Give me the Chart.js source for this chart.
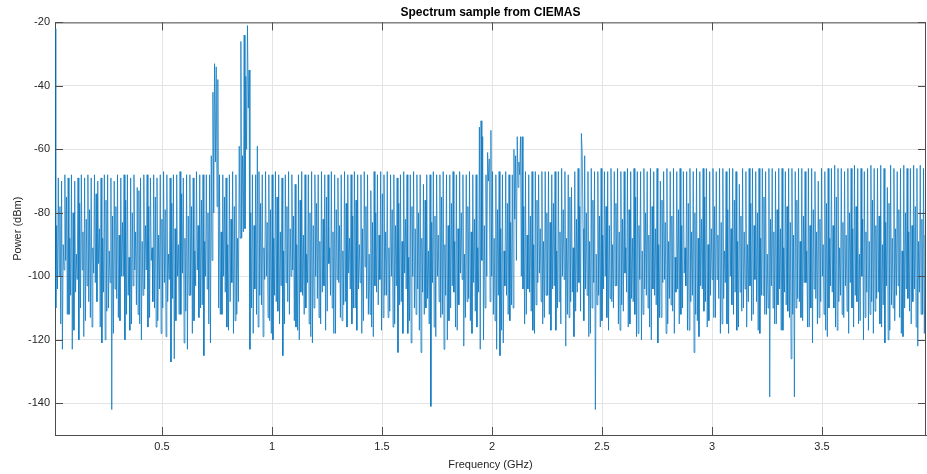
<!DOCTYPE html>
<html>
<head>
<meta charset="utf-8">
<script src="https://cdn.jsdelivr.net/npm/chart.js@4"></script>
<style>
  body { margin: 0; background: #fff; }
</style>
</head>
<body>
<canvas id="spectrumChart" width="927" height="474"></canvas>
<script>
// Spectrum sample (dBm)
const freqStart = 0.0136; // GHz, left edge of the trace
const freqStop = 3.9727;  // GHz, right edge of the trace

// each ripple of the trace: peak, trough, shoulder, dip
const peaks = [
  -22, -69, -70, -68, -69, -68, -70, -69, -68, -69,
  -68, -69, -68, -70, -69, -68, -68, -69, -70, -68,
  -69, -68, -68, -69, -68, -72, -69, -68, -68, -69,
  -68, -69, -68, -67, -68, -69, -68, -68, -67, -69,
  -68, -68, -69, -67, -68, -68, -68, -68, -42, -34,
  -68, -68, -69, -68, -67, -68, -59, -62, -37, -35,
  -68, -68, -67, -68, -67, -68, -68, -67, -68, -69,
  -68, -67, -68, -71, -68, -67, -68, -68, -67, -68,
  -68, -67, -68, -68, -67, -68, -69, -68, -67, -68,
  -68, -67, -68, -68, -67, -68, -73, -67, -68, -67,
  -68, -67, -68, -68, -69, -68, -67, -68, -68, -67,
  -68, -68, -71, -68, -68, -67, -68, -68, -67, -68,
  -68, -67, -68, -67, -68, -68, -67, -68, -68, -53,
  -56, -68, -63, -67, -68, -67, -68, -67, -68, -68,
  -62, -64, -56, -67, -68, -67, -67, -68, -67, -67,
  -67, -68, -67, -67, -66, -67, -68, -72, -67, -66,
  -55, -62, -67, -66, -67, -67, -66, -67, -67, -66,
  -67, -66, -67, -67, -66, -67, -66, -67, -67, -66,
  -67, -66, -67, -66, -70, -67, -66, -67, -66, -67,
  -66, -67, -67, -66, -67, -66, -67, -66, -66, -67,
  -66, -67, -66, -66, -67, -66, -66, -67, -71, -66,
  -67, -66, -66, -67, -66, -66, -67, -66, -66, -67,
  -66, -66, -67, -66, -66, -67, -66, -66, -67, -66,
  -66, -67, -70, -66, -67, -66, -66, -65, -66, -66,
  -67, -66, -66, -65, -66, -66, -67, -66, -65, -66,
  -66, -65, -66, -72, -65, -66, -67, -66, -65, -66,
  -66, -65, -66, -65, -66
];

const troughs = [
  -110, -100, -123, -95, -112, -123, -105, -120, -98, -114,
  -108, -116, -102, -96, -121, -120, -110, -142, -104, -113,
  -100, -120, -106, -115, -98, -112, -120, -104, -116, -95,
  -110, -114, -118, -102, -108, -127, -126, -100, -112, -121,
  -123, -106, -114, -98, -110, -125, -104, -121, -80, -78,
  -112, -100, -116, -108, -118, -112, -88, -86, -60, -123,
  -118, -112, -106, -119, -100, -114, -120, -108, -115, -125,
  -102, -112, -98, -116, -120, -106, -110, -115, -121, -100,
  -113, -105, -117, -96, -110, -118, -102, -114, -108, -99,
  -115, -110, -104, -118, -97, -112, -116, -103, -109, -117,
  -106, -113, -100, -115, -124, -108, -99, -118, -121, -110,
  -104, -124, -112, -107, -141, -116, -100, -113, -123, -120,
  -110, -105, -117, -99, -122, -108, -114, -102, -116, -123,
  -120, -100, -108, -112, -123, -125, -121, -106, -114, -110,
  -95, -68, -104, -112, -105, -117, -109, -99, -115, -106,
  -112, -104, -117, -108, -100, -122, -113, -105, -111, -102,
  -61, -104, -119, -110, -142, -106, -114, -100, -117, -108,
  -103, -115, -109, -99, -116, -107, -112, -118, -120, -104,
  -110, -120, -106, -121, -113, -101, -115, -109, -118, -104,
  -112, -99, -117, -108, -124, -114, -103, -111, -116, -106,
  -113, -101, -118, -107, -115, -100, -112, -117, -105, -110,
  -116, -103, -112, -108, -118, -106, -112, -138, -110, -115,
  -104, -117, -109, -113, -112, -110, -108, -114, -102, -116,
  -121, -107, -113, -100, -117, -110, -105, -116, -108, -112,
  -103, -118, -110, -106, -115, -100, -113, -117, -108, -111,
  -105, -116, -121, -120, -109, -114, -103, -118, -110, -107,
  -115, -104, -122, -112, -118
];

const shoulders = [
  -84, -78, -90, -75, -88, -80, -93, -77, -86, -82,
  -79, -91, -74, -85, -88, -76, -92, -81, -78, -87,
  -83, -76, -94, -80, -86, -73, -89, -84, -78, -91,
  -75, -87, -82, -79, -93, -77, -85, -90, -74, -88,
  -81, -78, -92, -84, -76, -89, -80, -62, -33, -38,
  -86, -75, -90, -82, -78, -88, -26, -24, -21, -80,
  -84, -59, -77, -91, -83, -79, -88, -75, -86, -92,
  -78, -85, -81, -90, -76, -87, -93, -80, -84, -77,
  -89, -82, -75, -91, -86, -79, -84, -92, -77, -88,
  -81, -76, -90, -85, -78, -93, -83, -80, -87, -74,
  -86, -91, -79, -84, -77, -89, -82, -94, -78, -85,
  -80, -88, -76, -92, -83, -81, -87, -75, -90, -84,
  -77, -89, -85, -80, -93, -78, -86, -82, -91, -51,
  -84, -61, -54, -88, -79, -85, -92, -77, -83, -60,
  -56, -56, -78, -87, -81, -90, -76, -85, -89, -80,
  -83, -77, -92, -86, -79, -88, -75, -91, -82, -78,
  -85, -80, -89, -76, -93, -81, -87, -78, -84, -90,
  -77, -86, -82, -91, -79, -88, -75, -84, -92, -80,
  -87, -78, -85, -90, -76, -83, -89, -81, -94, -79,
  -84, -91, -77, -86, -80, -88, -82, -75, -90, -85,
  -78, -87, -83, -92, -79, -85, -76, -89, -81, -86,
  -90, -77, -84, -80, -88, -75, -93, -82, -86, -79,
  -85, -91, -78, -83, -87, -76, -89, -81, -92, -84,
  -79, -86, -82, -90, -77, -88, -84, -75, -91, -83,
  -87, -80, -85, -78, -93, -82, -86, -89, -76, -84,
  -81, -90, -83, -77, -88, -85, -79, -92, -80, -86,
  -84, -78, -89, -82, -87
];

const dips = [
  -104, -115, -98, -112, -106, -117, -101, -110, -119, -103,
  -113, -99, -108, -116, -105, -111, -102, -118, -107, -114,
  -100, -112, -117, -103, -109, -115, -106, -98, -113, -108,
  -116, -104, -110, -119, -101, -107, -114, -112, -99, -111,
  -106, -118, -103, -113, -109, -100, -115, -95, -64, -110,
  -112, -105, -117, -102, -114, -108, -88, -85, -47, -110,
  -104, -116, -109, -101, -113, -118, -106, -111, -103, -115,
  -108, -100, -114, -117, -105, -112, -102, -119, -110, -107,
  -115, -103, -111, -106, -118, -101, -113, -109, -116, -104,
  -110, -117, -102, -114, -107, -112, -119, -105, -101, -113,
  -106, -111, -116, -103, -109, -118, -104, -114, -100, -112,
  -117, -105, -110, -115, -102, -119, -108, -112, -106, -114,
  -103, -116, -109, -101, -113, -107, -118, -111, -105, -95,
  -110, -70, -100, -114, -106, -117, -103, -112, -109, -82,
  -72, -100, -115, -104, -111, -118, -102, -108, -113, -106,
  -117, -103, -110, -115, -101, -112, -108, -119, -105, -111,
  -114, -106, -118, -102, -109, -116, -104, -113, -107, -110,
  -103, -117, -111, -105, -115, -108, -119, -101, -112, -106,
  -116, -104, -109, -113, -102, -118, -107, -111, -105, -115,
  -110, -103, -117, -106, -112, -119, -104, -108, -114, -101,
  -113, -107, -115, -102, -118, -109, -105, -116, -111, -104,
  -108, -114, -101, -117, -106, -112, -110, -103, -115, -109,
  -117, -105, -111, -126, -138, -107, -113, -102, -116, -110,
  -104, -115, -108, -112, -119, -103, -110, -117, -106, -113,
  -111, -102, -116, -108, -114, -120, -105, -112, -118, -107,
  -115, -109, -103, -117, -110, -106, -113, -119, -104, -111,
  -108, -116, -105, -112, -110
];

const xTicks = [0.5, 1, 1.5, 2, 2.5, 3, 3.5];
const xTickLabels = ["0.5", "1", "1.5", "2", "2.5", "3", "3.5"];
const yTicks = [-140, -120, -100, -80, -60, -40, -20];
const yTickLabels = ["-140", "-120", "-100", "-80", "-60", "-40", "-20"];

// build the trace in order: peak, trough, shoulder, dip, next ripple ...
const power = [];
peaks.forEach((p, i) => {
  power.push(p, troughs[i], shoulders[i], dips[i]);
});
const step = (freqStop - freqStart) / (power.length - 1);
const points = power.map((p, i) => ({ x: freqStart + i * step, y: p }));

const axisColor = "#4d4d4d";
const labelColor = "#262626";
const gridColor = "#e3e3e3";
const tickFont = { family: "Liberation Sans, Arial, sans-serif", size: 11 };

// box on top/right and inward tick marks, like the original plot
const boxPlugin = {
  id: "boxPlugin",
  afterDatasetsDraw(chart) {
    const { ctx, chartArea: a, scales } = chart;
    const len = 8;
    ctx.save();
    ctx.strokeStyle = axisColor;
    ctx.lineWidth = 1;
    ctx.beginPath();
    ctx.moveTo(a.left, a.top + 0.5);
    ctx.lineTo(a.right, a.top + 0.5);
    ctx.moveTo(a.right - 0.5, a.top);
    ctx.lineTo(a.right - 0.5, a.bottom);
    xTicks.forEach((v) => {
      const px = Math.round(scales.x.getPixelForValue(v)) + 0.5;
      ctx.moveTo(px, a.top);
      ctx.lineTo(px, a.top + len);
      ctx.moveTo(px, a.bottom);
      ctx.lineTo(px, a.bottom - len);
    });
    yTicks.forEach((v) => {
      const py = Math.round(scales.y.getPixelForValue(v)) + 0.5;
      ctx.moveTo(a.left, py);
      ctx.lineTo(a.left + len, py);
      ctx.moveTo(a.right, py);
      ctx.lineTo(a.right - len, py);
    });
    ctx.stroke();
    ctx.restore();
  },
};

const ctx = document.getElementById("spectrumChart").getContext("2d");
const spectrumChart = new Chart(ctx, {
  type: "line",
  data: {
    datasets: [
      {
        label: "Spectrum",
        data: points,
        borderColor: "#0072BD",
        borderWidth: 0.7,
        pointRadius: 0,
        tension: 0,
        fill: false,
      },
    ],
  },
  options: {
    responsive: false,
    animation: false,
    layout: { padding: { left: 0, right: 1, top: 0, bottom: 0 } },
    plugins: {
      legend: { display: false },
      tooltip: { enabled: false },
      title: {
        display: true,
        text: "Spectrum sample from CIEMAS",
        fullSize: false,
        color: "#000",
        font: { family: "Liberation Sans, Arial, sans-serif", size: 12, weight: "bold" },
        padding: { top: 5, bottom: 3 },
      },
    },
    scales: {
      x: {
        type: "linear",
        min: freqStart,
        max: freqStop,
        afterBuildTicks: (scale) => {
          scale.ticks = xTicks.map((v) => ({ value: v }));
        },
        afterFit: (scale) => {
          scale.height = 39;
        },
        ticks: {
          callback: (v) => xTickLabels[xTicks.indexOf(v)],
          color: labelColor,
          font: tickFont,
          padding: 5,
          maxRotation: 0,
        },
        grid: { color: gridColor, drawTicks: false },
        border: { color: axisColor },
        title: {
          display: true,
          text: "Frequency (GHz)",
          color: labelColor,
          font: tickFont,
          padding: { top: 0, bottom: 2 },
        },
      },
      y: {
        min: -150,
        max: -20,
        afterBuildTicks: (scale) => {
          scale.ticks = yTicks.map((v) => ({ value: v }));
        },
        afterFit: (scale) => {
          scale.width = 55;
        },
        ticks: {
          callback: (v) => yTickLabels[yTicks.indexOf(v)],
          color: labelColor,
          font: tickFont,
          padding: 5,
        },
        grid: { color: gridColor, drawTicks: false },
        border: { color: axisColor },
        title: {
          display: true,
          text: "Power (dBm)",
          color: labelColor,
          font: tickFont,
          padding: { top: 11, bottom: 0 },
        },
      },
    },
  },
  plugins: [boxPlugin],
});
</script>
</body>
</html>
